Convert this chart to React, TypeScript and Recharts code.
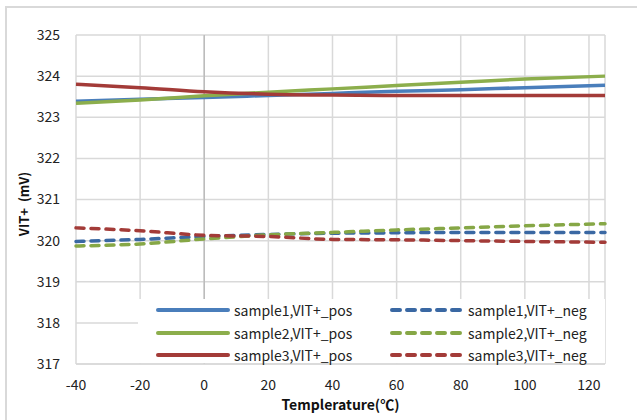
import { CartesianGrid, Label, Line, LineChart, ReferenceLine, XAxis, YAxis } from "recharts"

const temps = [-40, -20, 0, 20, 40, 60, 80, 100, 125]
const s1Pos = [323.39, 323.44, 323.48, 323.53, 323.58, 323.63, 323.67, 323.72, 323.78]
const s2Pos = [323.34, 323.42, 323.52, 323.61, 323.69, 323.77, 323.85, 323.93, 324.0]
const s3Pos = [323.8, 323.72, 323.62, 323.56, 323.54, 323.53, 323.53, 323.53, 323.53]
const s1Neg = [319.98, 320.03, 320.1, 320.15, 320.18, 320.19, 320.2, 320.2, 320.2]
const s2Neg = [319.87, 319.92, 320.04, 320.14, 320.2, 320.26, 320.31, 320.36, 320.41]
const s3Neg = [320.31, 320.24, 320.13, 320.1, 320.03, 320.02, 320.0, 319.98, 319.96]

const xTicks = [-40, -20, 0, 20, 40, 60, 80, 100, 120]
const yTicks = [317, 318, 319, 320, 321, 322, 323, 324, 325]

const series = [
  { key: "s1p", name: "sample1,VIT+_pos", values: s1Pos, color: "#4a7ebb", dashed: false },
  { key: "s1n", name: "sample1,VIT+_neg", values: s1Neg, color: "#3a68a3", dashed: true },
  { key: "s2p", name: "sample2,VIT+_pos", values: s2Pos, color: "#8cae4c", dashed: false },
  { key: "s2n", name: "sample2,VIT+_neg", values: s2Neg, color: "#86a746", dashed: true },
  { key: "s3p", name: "sample3,VIT+_pos", values: s3Pos, color: "#a33b38", dashed: false },
  { key: "s3n", name: "sample3,VIT+_neg", values: s3Neg, color: "#a33b38", dashed: true },
]

const data = temps.map((t, i) => {
  const row: Record<string, number> = { t }
  series.forEach((s) => {
    row[s.key] = s.values[i]
  })
  return row
})

const font = '"Noto Sans CJK SC", "Noto Sans", sans-serif'
const dash = "8 7"

// legend sits inside the plot area like the excel one, so it is drawn over the chart
function ChartLegend() {
  return (
    <div
      style={{
        position: "absolute",
        left: 138,
        top: 299,
        width: 467,
        height: 64,
        background: "#fff",
        display: "grid",
        gridTemplateColumns: "234px 233px",
        alignContent: "start",
      }}
    >
      {series.map((s) => (
        <div key={s.key} style={{ display: "flex", alignItems: "center", height: 22.5, paddingLeft: 18 }}>
          <svg width={74} height={8} style={{ marginRight: 4, flex: "none" }}>
            <line
              x1={2}
              y1={4}
              x2={72}
              y2={4}
              stroke={s.color}
              strokeWidth={4}
              strokeLinecap="round"
              strokeDasharray={s.dashed ? dash : undefined}
            />
          </svg>
          <span style={{ fontSize: 14, color: "#222", fontFamily: font, whiteSpace: "nowrap" }}>{s.name}</span>
        </div>
      ))}
    </div>
  )
}

export default function App() {
  return (
    <div style={{ position: "absolute", left: 0, top: 0, width: 637, height: 420, overflow: "hidden", background: "#fff", fontFamily: font }}>
      <div style={{ position: "absolute", left: 5, top: 6, width: 700, height: 500, border: "2px solid #d9d9d9" }} />
      <div style={{ position: "absolute", left: 0, top: 0 }}>
        <LineChart width={637} height={420} data={data} margin={{ top: 35, right: 32, bottom: 0, left: 0 }}>
          <CartesianGrid stroke="#d9d9d9" strokeWidth={1.5} />
          <XAxis
            type="number"
            dataKey="t"
            domain={[-40, 125]}
            ticks={xTicks}
            axisLine={{ stroke: "#d9d9d9", strokeWidth: 1.5 }}
            tickLine={false}
            tickSize={0}
            tickMargin={16}
            height={56}
            tick={{ fill: "#222", fontSize: 14, fontFamily: font }}
          >
            <Label
              content={() => (
                <text x={340.5} y={410} textAnchor="middle" fontSize={14} fontWeight="bold" fill="#111" fontFamily={font}>
                  Templerature(℃)
                </text>
              )}
            />
          </XAxis>
          <YAxis
            domain={[317, 325]}
            ticks={yTicks}
            axisLine={false}
            tickLine={false}
            tickSize={0}
            tickMargin={16}
            width={76}
            tick={{ fill: "#222", fontSize: 14, fontFamily: font }}
          >
            <Label
              content={() => (
                <text
                  x={23}
                  y={204}
                  transform="rotate(-90 23 204)"
                  textAnchor="middle"
                  dominantBaseline="central"
                  fontSize={13}
                  fontWeight="bold"
                  fill="#111"
                  fontFamily={font}
                  style={{ whiteSpace: "pre" }}
                >
                  {"VIT+  (mV)"}
                </text>
              )}
            />
          </YAxis>
          <ReferenceLine x={0} stroke="#bcbcbc" strokeWidth={1.5} />
          {series.map((s) => (
            <Line
              key={s.key}
              dataKey={s.key}
              name={s.name}
              type="monotone"
              stroke={s.color}
              strokeWidth={3.5}
              strokeDasharray={s.dashed ? dash : undefined}
              strokeLinecap={s.dashed ? "round" : "butt"}
              dot={false}
              activeDot={false}
              isAnimationActive={false}
            />
          ))}
        </LineChart>
      </div>
      <ChartLegend />
    </div>
  )
}
